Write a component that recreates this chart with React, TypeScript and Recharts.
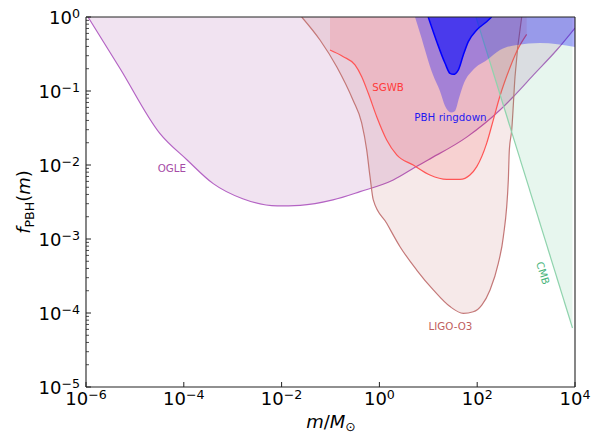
import React from 'react';
import { ComposedChart, Area, XAxis, YAxis, ReferenceDot } from 'recharts';

// ---- axes ----
const xDomain = [1e-6, 1e4];
const yDomain = [1e-5, 1];
const xTicks = [1e-6, 1e-4, 1e-2, 1, 1e2, 1e4];
const yMajorTicks = [1e-5, 1e-4, 1e-3, 1e-2, 1e-1, 1];
const yMinorMantissas = [2, 3, 4, 5, 6, 7, 8, 9];
const yMinorDecades = [1e-5, 1e-4, 1e-3, 1e-2, 1e-1];
const yMinorTicks = yMinorDecades.flatMap((d) => yMinorMantissas.map((k) => k * d));
const yAllTicks = [...yMajorTicks, ...yMinorTicks].sort((a, b) => a - b);

// ---- OGLE ----
const ogleM = [1.1e-6, 5.0e-6, 3.2e-5, 1.17e-4, 4.0e-4, 1.6e-3, 8.1e-3, 0.024, 0.112, 0.401, 1.92, 5.35, 9.86, 62, 292, 540, 1403, 4230, 1e4];
const ogleF = [1, 0.2, 0.027, 0.0117, 5.6e-3, 3.5e-3, 2.8e-3, 2.85e-3, 3.37e-3, 4.36e-3, 6.27e-3, 9.3e-3, 0.0117, 0.024, 0.0553, 0.083, 0.164, 0.358, 0.71];

// ---- LIGO-O3 ----
const ligoM = [0.0258, 0.061, 0.134, 0.288, 0.434, 0.55, 0.643, 0.75, 1.41, 2.64, 5.79, 12.65, 27.8, 52, 83, 124, 183, 270, 342, 433, 454, 508, 593, 813];
const ligoF = [1, 0.489, 0.213, 0.0755, 0.037, 0.016, 6.95e-3, 3.37e-3, 1.63e-3, 7.87e-4, 3.81e-4, 2.05e-4, 1.22e-4, 9.9e-5, 1.04e-4, 1.28e-4, 2.05e-4, 4.7e-4, 1.07e-3, 6.3e-3, 0.016, 0.0297, 0.155, 1];

// ---- SGWB ----
const sgwbM = [0.0977, 0.183, 0.317, 0.435, 0.593, 0.881, 1.41, 2.26, 4.93, 10.8, 23.8, 44.5, 71, 98, 156, 213, 292, 469, 692, 1027];
const sgwbF = [0.358, 0.291, 0.225, 0.156, 0.093, 0.045, 0.0218, 0.0137, 0.01, 7.33e-3, 6.4e-3, 6.4e-3, 7.33e-3, 9.5e-3, 0.0196, 0.0405, 0.0856, 0.208, 0.378, 0.583];

// ---- CMB ----
const cmbM = [94.4, 8890];
const cmbF = [1, 6.27e-5];

// ---- PBH ringdown (two bands) ----
const ringWideM = [5.35, 6.76, 12.5, 17.3, 22, 29.1, 35.2, 42.5, 53.7, 82, 158, 292, 651, 1923, 1e4];
const ringWideF = [1, 0.608, 0.164, 0.1, 0.0627, 0.0512, 0.0537, 0.0804, 0.128, 0.192, 0.262, 0.358, 0.418, 0.445, 0.393];
const ringCoreM = [9.96, 14.9, 22, 27.8, 32.5, 41, 52, 65.8, 97.7, 156, 198];
const ringCoreF = [1, 0.464, 0.237, 0.173, 0.168, 0.192, 0.306, 0.464, 0.667, 0.864, 1];

// ---- annotations ----
const labelText = ['OGLE', 'SGWB', 'PBH ringdown', 'LIGO-O3', 'CMB'];
const labelM = [5.7e-5, 1.5, 28.4, 28.4, 2218];
const labelF = [9.1e-3, 0.111, 0.0438, 6.67e-5, 3.47e-4];
const labelColor = ['#a64da6', '#ff3b3b', '#1f1af0', '#bf5f5f', '#48b47a'];
const labelAngle = [0, 0, 0, 0, 72.9];

// build one table for the chart
const rows: any[] = [];
const addSeries = (key: string, ms: number[], fs: number[]) => {
  ms.forEach((m, i) => rows.push({ m, [key]: fs[i] }));
};
addSeries('ogle', ogleM, ogleF);
addSeries('ligo', ligoM, ligoF);
addSeries('sgwb', sgwbM, sgwbF);
addSeries('cmb', cmbM, cmbF);
addSeries('ringWide', ringWideM, ringWideF);
addSeries('ringCore', ringCoreM, ringCoreF);
rows.sort((a, b) => a.m - b.m);

const FONT = 'DejaVu Sans';
const AXIS = '#222';

const isMajor = (v: number) => Math.abs(Math.log10(v) - Math.round(Math.log10(v))) < 1e-6;

const fmtExp = (v: number) => {
  const e = Math.round(Math.log10(v));
  return e < 0 ? '\u2212' + -e : String(e);
};

const XTick = (p: any) => (
  <g>
    <line x1={p.x} x2={p.x} y1={p.y} y2={p.y - 5} stroke={AXIS} strokeWidth={1} />
    <text x={p.x} y={p.y + 18} textAnchor="middle" fontFamily={FONT} fontSize={18} fill="#000">
      <tspan>10</tspan>
      <tspan dy={-6.5} fontSize={12.6}>{fmtExp(p.payload.value)}</tspan>
    </text>
  </g>
);

const YTick = (p: any) => {
  const v = p.payload.value;
  const major = isMajor(v);
  return (
    <g>
      <line x1={p.x} x2={p.x + (major ? 5 : 3)} y1={p.y} y2={p.y} stroke={AXIS} strokeWidth={major ? 1 : 0.8} />
      {major && (
        <text x={p.x - 6} y={p.y + 7} textAnchor="end" fontFamily={FONT} fontSize={18} fill="#000">
          <tspan>10</tspan>
          <tspan dy={-6.5} fontSize={12.6}>{fmtExp(v)}</tspan>
        </text>
      )}
    </g>
  );
};

const makeLabel = (text: string, color: string, angle: number) => (props: any) => {
  const vb = props.viewBox ?? props ?? {};
  const cx = (vb.x ?? 0) + (vb.width ?? 0) / 2;
  const cy = (vb.y ?? 0) + (vb.height ?? 0) / 2;
  return (
    <text
      x={cx}
      y={cy}
      dy="0.36em"
      textAnchor="middle"
      fill={color}
      fontSize={10.3}
      fontFamily={FONT}
      transform={angle ? `rotate(${angle} ${cx} ${cy})` : undefined}
    >
      {text}
    </text>
  );
};

const common = {
  xAxisId: 'x',
  yAxisId: 'y',
  type: 'monotone' as const,
  baseValue: 1,
  connectNulls: true,
  isAnimationActive: false,
  dot: false,
  activeDot: false,
};

export default function App() {
  return (
    <div style={{ position: 'absolute', left: 0, top: 0, width: 598, height: 436, background: '#fff' }}>
      <ComposedChart width={598} height={436} data={rows} margin={{ top: 17, right: 23, bottom: 0, left: 0 }}>
        <XAxis
          xAxisId="x"
          dataKey="m"
          type="number"
          scale="log"
          domain={xDomain}
          allowDataOverflow
          ticks={xTicks}
          interval={0}
          height={49}
          tickSize={0}
          tickMargin={0}
          tickLine={false}
          axisLine={{ stroke: AXIS, strokeWidth: 1.1 }}
          tick={<XTick />}
        />
        <XAxis
          xAxisId="top"
          dataKey="m"
          orientation="top"
          type="number"
          scale="log"
          domain={xDomain}
          allowDataOverflow
          ticks={xTicks}
          mirror
          height={1}
          tick={false}
          tickLine={false}
          axisLine={{ stroke: AXIS, strokeWidth: 1.1 }}
        />
        <YAxis
          yAxisId="y"
          type="number"
          scale="log"
          domain={yDomain}
          allowDataOverflow
          ticks={yAllTicks}
          interval={0}
          width={86}
          tickSize={0}
          tickMargin={0}
          tickLine={false}
          axisLine={{ stroke: AXIS, strokeWidth: 1.1 }}
          tick={<YTick />}
        />
        <YAxis
          yAxisId="right"
          orientation="right"
          type="number"
          scale="log"
          domain={yDomain}
          allowDataOverflow
          ticks={yMajorTicks}
          mirror
          width={1}
          tick={false}
          tickLine={false}
          axisLine={{ stroke: AXIS, strokeWidth: 1.1 }}
        />

        <Area {...common} dataKey="ogle" fill="#800080" fillOpacity={0.11} stroke="#b463c4" strokeWidth={1.2} />
        <Area {...common} dataKey="ligo" fill="#a52a2a" fillOpacity={0.1} stroke="#c47878" strokeWidth={1.2} />
        <Area {...common} dataKey="sgwb" fill="#ff0000" fillOpacity={0.1} stroke="#ff5555" strokeWidth={1.2} />
        <Area {...common} type="linear" dataKey="cmb" fill="#3cb371" fillOpacity={0.12} stroke="#8fd3ad" strokeWidth={1.2} />
        <Area {...common} dataKey="ringWide" fill="#0000ff" fillOpacity={0.3} stroke="none" />
        <Area {...common} dataKey="ringCore" fill="#0000ff" fillOpacity={0.55} stroke="#0000ff" strokeWidth={1.5} />

        {labelText.map((t, i) => (
          <ReferenceDot
            key={t}
            xAxisId="x"
            yAxisId="y"
            x={labelM[i]}
            y={labelF[i]}
            r={0}
            fill="none"
            stroke="none"
            label={makeLabel(t, labelColor[i], labelAngle[i])}
          />
        ))}
      </ComposedChart>
      <svg width={598} height={436} style={{ position: 'absolute', left: 0, top: 0, pointerEvents: 'none' }}>
        <text
          transform="translate(30,202) rotate(-90)"
          textAnchor="middle"
          fontFamily={FONT}
          fontSize={18}
          fill="#000"
        >
          <tspan fontStyle="italic">f</tspan>
          <tspan fontSize={12.6} dy={3.5}>PBH</tspan>
          <tspan dy={-3.5}>(</tspan>
          <tspan fontStyle="italic">m</tspan>
          <tspan>)</tspan>
        </text>
        <text x={331} y={428} textAnchor="middle" fontFamily={FONT} fontSize={18} fill="#000">
          <tspan fontStyle="italic">m</tspan>
          <tspan>/</tspan>
          <tspan fontStyle="italic">M</tspan>
          <tspan fontSize={12.6} dy={3}>⊙</tspan>
        </text>
      </svg>
    </div>
  );
}
